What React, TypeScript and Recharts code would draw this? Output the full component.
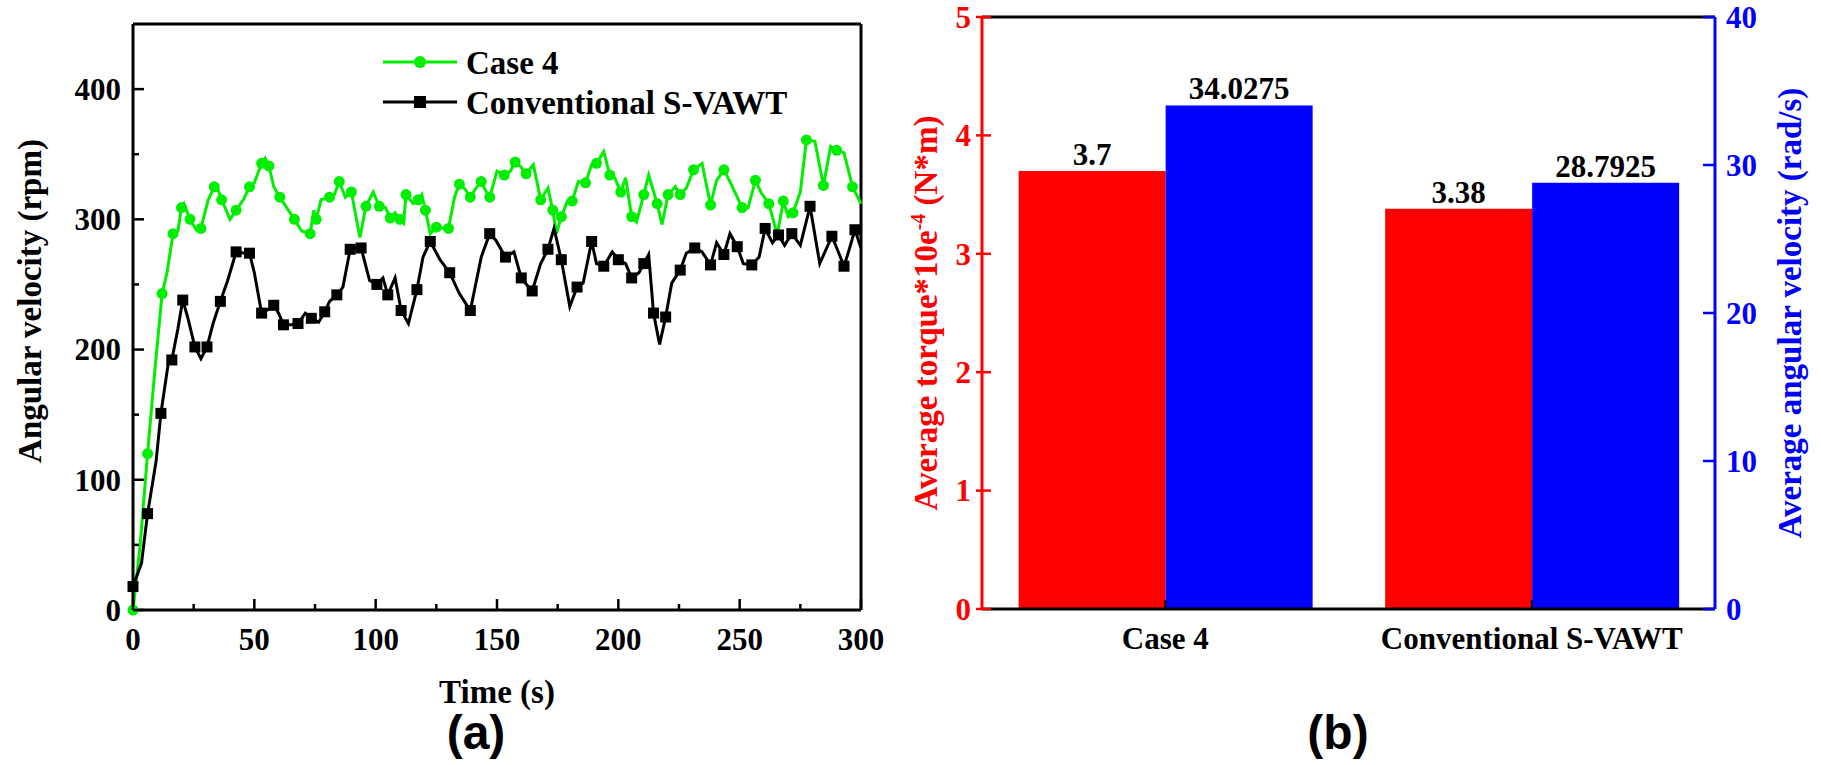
import { LineChart, Line, XAxis, YAxis, Legend, BarChart, Bar, LabelList, ReferenceLine } from 'recharts'

// ---------------------------------------------------------------------------
// Panel (a): angular velocity history
// ---------------------------------------------------------------------------

const caseTime = [
  0, 3, 6, 9, 12, 14, 16.5, 18.5, 20, 21, 23.5, 26, 28, 31, 33.5, 35, 36.5, 40, 42.5, 45.5,
  48, 50, 53, 54.5, 56, 58, 60.5, 63, 66.5, 69.5, 73, 74.5, 75.5, 77.5, 81, 83, 85, 87.5, 90, 93.5,
  96, 99, 101.5, 104, 106, 108, 110, 111.5, 112.5, 115.5, 117.5, 119, 120.5, 122.5, 125, 128.5, 130, 132.5, 134.5, 137,
  139, 141, 143.5, 145, 147, 150, 153, 155.5, 157.5, 159.5, 162, 165, 168, 171, 173, 174.5, 176.5, 179, 181, 183.5,
  186.5, 189, 191, 194, 196.5, 198.5, 201, 203, 205.5, 207.5, 210.5, 212.5, 216, 218, 220.5, 223.5, 225.5, 228, 231, 234.5,
  238, 240.5, 243.5, 246, 251, 253.5, 256.5, 259, 262, 265.5, 268, 270, 272, 275, 277.5, 281, 284.5, 287.5, 290, 293,
  296.5, 300,
]
const caseRpm = [
  0, 51, 120, 184, 243, 259, 289, 291, 309, 312, 300, 292, 293, 315, 325, 323, 315, 300, 307, 315,
  325, 328, 343, 347, 341, 325, 317, 310, 300, 291, 289, 307, 300, 315, 317, 319, 329, 317, 321, 286,
  310, 321, 310, 309, 301, 305, 300, 297, 319, 312, 315, 319, 307, 289, 294, 293, 293, 317, 327, 323,
  317, 323, 329, 323, 317, 337, 334, 337, 344, 341, 335, 342, 315, 324, 307, 289, 302, 314, 314, 329,
  328, 342, 343, 352, 334, 332, 321, 332, 302, 298, 319, 334, 312, 296, 319, 325, 319, 324, 338, 343,
  311, 330, 338, 329, 309, 309, 330, 320, 312, 288, 314, 302, 305, 321, 361, 360, 326, 356, 353, 351,
  325, 312,
]

const convTime = [
  0, 3.5, 6, 9.5, 11.5, 14.5, 16, 18.5, 20.5, 22.5, 25.5, 28, 30.5, 33, 36, 39, 42.5, 46, 48, 50,
  53, 55, 58, 60, 62, 65.5, 68, 71, 73.5, 76.5, 79, 81, 84, 86.5, 89.5, 91.5, 94, 97.5, 100.5, 103,
  105, 108, 110.5, 113.5, 117, 119.5, 122.5, 126.5, 130.5, 134.5, 139, 143.5, 147, 149.5, 153.5, 157, 160, 163, 164.5, 168,
  171, 173.5, 176.5, 180, 183, 185.5, 189, 191, 194, 197.5, 200, 203, 205.5, 208.5, 210.5, 212.5, 214.5, 217, 219.5, 222,
  225.5, 228, 231.5, 234.5, 238, 240.5, 243.5, 246, 249, 251.5, 255, 258, 260.5, 263.5, 266, 268.5, 271.5, 275, 279, 283,
  288, 290, 293, 295, 297.5, 300,
]
const convRpm = [
  18, 36, 74, 114, 151, 189, 192, 216, 238, 225, 202, 193, 202, 220, 237, 253, 275, 274, 274, 259,
  228, 230, 234, 228, 219, 219, 220, 228, 224, 221, 229, 237, 242, 248, 277, 278, 278, 253, 250, 255,
  242, 255, 230, 220, 246, 271, 283, 269, 259, 243, 230, 271, 289, 284, 271, 275, 255, 248, 245, 266,
  277, 293, 269, 233, 248, 251, 283, 266, 264, 275, 269, 266, 255, 259, 266, 273, 228, 204, 225, 251,
  261, 274, 278, 275, 265, 282, 273, 289, 279, 266, 265, 271, 293, 282, 288, 280, 289, 280, 310, 266,
  287, 278, 264, 276, 292, 278,
]

const timeTicks = [0, 25, 50, 75, 100, 125, 150, 175, 200, 225, 250, 275, 300]
const rpmTicks = [0, 50, 100, 150, 200, 250, 300, 350, 400]
const timeMax = 300
const rpmMax = 450

// ---------------------------------------------------------------------------
// Panel (b): averages
// ---------------------------------------------------------------------------

const turbines = ['Case 4', 'Conventional S-VAWT']
const avgTorque = [3.7, 3.38]
const avgOmega = [34.0275, 28.7925]
const torqueTicks = [0, 1, 2, 3, 4, 5]
const omegaTicks = [0, 10, 20, 30, 40]
const torqueMax = 5
const omegaMax = 40

const caseData = caseTime.map((t, i) => ({ t, rpm: caseRpm[i] }))
const convData = convTime.map((t, i) => ({ t, rpm: convRpm[i] }))
const barData = turbines.map((name, i) => ({ name, torque: avgTorque[i], omega: avgOmega[i] }))

const SERIF = "'Liberation Serif', 'Times New Roman', serif"
const GREEN = '#00ee00'
const RED = '#ff0000'
const BLUE = '#0000ff'

const txt = { fontFamily: SERIF, fontWeight: 'bold' as const }

// ---------------------------------------------------------------------------
// Ticks (inward tick marks drawn by hand so labels stay outside)
// ---------------------------------------------------------------------------

const RPM_MARGIN = 12
function RpmTick({ x, y, payload }: any) {
  const ax = x + RPM_MARGIN
  const major = payload.value % 100 === 0
  return (
    <g>
      <line x1={ax} x2={ax + (major ? 11 : 6)} y1={y} y2={y} stroke="#000" strokeWidth={2.5} />
      {major && (
        <text x={x} y={y} dy="0.35em" textAnchor="end" fontSize={31} fill="#000" {...txt}>
          {payload.value}
        </text>
      )}
    </g>
  )
}

const TIME_MARGIN = 18
function TimeTick({ x, y, payload }: any) {
  const ay = y - TIME_MARGIN
  const major = payload.value % 50 === 0
  return (
    <g>
      <line x1={x} x2={x} y1={ay} y2={ay - (major ? 11 : 6)} stroke="#000" strokeWidth={2.5} />
      {major && (
        <text x={x} y={y} dy="0.71em" textAnchor="middle" fontSize={31} fill="#000" {...txt}>
          {payload.value}
        </text>
      )}
    </g>
  )
}

const TORQUE_MARGIN = 9
function TorqueTick({ x, y, payload }: any) {
  const ax = x + TORQUE_MARGIN
  return (
    <g>
      <line x1={ax - 6} x2={ax + 9} y1={y} y2={y} stroke={RED} strokeWidth={2.5} />
      <text x={x - 2} y={y} dy="0.35em" textAnchor="end" fontSize={31} fill={RED} {...txt}>
        {payload.value}
      </text>
    </g>
  )
}

const OMEGA_MARGIN = 11
function OmegaTick({ x, y, payload }: any) {
  const ax = x - OMEGA_MARGIN
  return (
    <g>
      <line x1={ax - 12} x2={ax} y1={y} y2={y} stroke={BLUE} strokeWidth={2.5} />
      <text x={x} y={y} dy="0.35em" textAnchor="start" fontSize={31} fill={BLUE} {...txt}>
        {payload.value}
      </text>
    </g>
  )
}

const CASE_MARGIN = 18
function CaseTick({ x, y, payload }: any) {
  const ay = y - CASE_MARGIN
  return (
    <g>
      <line x1={x} x2={x} y1={ay} y2={ay - 9} stroke="#000" strokeWidth={2} />
      <text x={x} y={y} dy="0.71em" textAnchor="middle" fontSize={31} fill="#000" {...txt}>
        {payload.value}
      </text>
    </g>
  )
}

// ---------------------------------------------------------------------------
// Markers, legend, titles
// ---------------------------------------------------------------------------

function circleDot({ cx, cy, index }: any) {
  if (index % 2 !== 0) return <g key={`c${index}`} />
  return <circle key={`c${index}`} cx={cx} cy={cy} r={5.5} fill={GREEN} />
}

function squareDot({ cx, cy, index }: any) {
  if (index % 2 !== 0) return <g key={`s${index}`} />
  return <rect key={`s${index}`} x={cx - 5.5} y={cy - 5.5} width={11} height={11} fill="#000" />
}

function SeriesLegend({ payload }: any) {
  const items = payload ?? []
  return (
    <svg width={440} height={84}>
      {items.map((item: any, i: number) => {
        const cy = 22 + i * 40
        return (
          <g key={item.value}>
            <line x1={3} x2={77} y1={cy} y2={cy} stroke={item.color} strokeWidth={3} />
            {i === 0
              ? <circle cx={40} cy={cy} r={6} fill={item.color} />
              : <rect x={34} y={cy - 6} width={12} height={12} fill={item.color} />}
            <text x={86} y={cy} dy="0.35em" fontSize={33} fill="#000" {...txt}>{item.value}</text>
          </g>
        )
      })}
    </svg>
  )
}

function rotatedTitle(text: any, dx: number, dy: number, color: string) {
  return (props: any) => {
    const vb = props.viewBox
    const cx = vb.x + dx
    const cy = vb.y + vb.height / 2 + dy
    return (
      <text x={cx} y={cy} dy="0.35em" textAnchor="middle" fontSize={33} fill={color}
        transform={`rotate(-90, ${cx}, ${cy})`} {...txt}>
        {text}
      </text>
    )
  }
}

const torqueTitle = (
  <>
    Average torque*10e<tspan dy={-12} fontSize={20}>-4</tspan>
    <tspan dy={12}> (N*m)</tspan>
  </>
)

function timeTitle(props: any) {
  const vb = props.viewBox
  return (
    <text x={vb.x + vb.width / 2} y={vb.y + 81} dy="0.35em" textAnchor="middle" fontSize={33} fill="#000" {...txt}>
      Time (s)
    </text>
  )
}

const panelLabel: React.CSSProperties = {
  position: 'absolute',
  width: 140,
  textAlign: 'center',
  fontFamily: "'Liberation Sans', Arial, sans-serif",
  fontWeight: 'bold',
  fontSize: 48,
  lineHeight: '40px',
  color: '#000',
}

const frame = { stroke: '#000', strokeWidth: 3 }

export default function App() {
  return (
    <div style={{ position: 'absolute', left: 0, top: 0, width: 1821, height: 765, background: '#fff', overflow: 'hidden' }}>
      <div style={{ position: 'absolute', left: 0, top: 0 }}>
        <LineChart width={900} height={765} margin={{ top: 24, right: 39, bottom: 0, left: 0 }}>
          <XAxis
            dataKey="t"
            type="number"
            domain={[0, timeMax]}
            ticks={timeTicks}
            interval={0}
            tickSize={0}
            tickMargin={TIME_MARGIN}
            tickLine={false}
            tick={(p: any) => <TimeTick {...p} />}
            axisLine={frame}
            height={155}
            label={timeTitle}
          />
          <YAxis
            type="number"
            domain={[0, rpmMax]}
            ticks={rpmTicks}
            interval={0}
            width={133}
            tickSize={0}
            tickMargin={RPM_MARGIN}
            tickLine={false}
            tick={(p: any) => <RpmTick {...p} />}
            axisLine={frame}
            label={rotatedTitle('Angular velocity (rpm)', 29, -16, '#000')}
          />
          {/* closing frame: top and right borders */}
          <ReferenceLine y={rpmMax} stroke="#000" strokeWidth={3} />
          <ReferenceLine x={timeMax} stroke="#000" strokeWidth={3} />
          <Legend
            layout="vertical"
            align="center"
            verticalAlign="middle"
            wrapperStyle={{ left: 380, top: 40, width: 440 }}
            content={(p: any) => <SeriesLegend {...p} />}
          />
          <Line data={caseData} dataKey="rpm" name="Case 4" type="linear" stroke={GREEN} strokeWidth={3}
            dot={circleDot} activeDot={false} isAnimationActive={false} />
          <Line data={convData} dataKey="rpm" name="Conventional S-VAWT" type="linear" stroke="#000" strokeWidth={3}
            dot={squareDot} activeDot={false} isAnimationActive={false} />
        </LineChart>
      </div>

      <div style={{ position: 'absolute', left: 900, top: 0 }}>
        <BarChart width={921} height={765} data={barData} margin={{ top: 17, right: 0, bottom: 0, left: 0 }}
          barCategoryGap="10%" barGap={0}>
          <XAxis dataKey="name" height={156} interval={0} tickSize={0} tickMargin={CASE_MARGIN} tickLine={false}
            tick={(p: any) => <CaseTick {...p} />} axisLine={frame} />
          <YAxis
            yAxisId="torque"
            type="number"
            domain={[0, torqueMax]}
            ticks={torqueTicks}
            interval={0}
            width={82}
            tickSize={0}
            tickMargin={TORQUE_MARGIN}
            tickLine={false}
            tick={(p: any) => <TorqueTick {...p} />}
            axisLine={{ stroke: RED, strokeWidth: 3 }}
            label={rotatedTitle(torqueTitle, 25, 0, RED)}
          />
          <YAxis
            yAxisId="omega"
            orientation="right"
            type="number"
            domain={[0, omegaMax]}
            ticks={omegaTicks}
            interval={0}
            width={106}
            tickSize={0}
            tickMargin={OMEGA_MARGIN}
            tickLine={false}
            tick={(p: any) => <OmegaTick {...p} />}
            axisLine={{ stroke: BLUE, strokeWidth: 3 }}
            label={rotatedTitle('Average angular velocity (rad/s)', 74, 0, BLUE)}
          />
          {/* top border */}
          <ReferenceLine yAxisId="torque" y={torqueMax} stroke="#000" strokeWidth={3} />
          <Bar yAxisId="torque" dataKey="torque" fill={RED} isAnimationActive={false}>
            <LabelList dataKey="torque" position="top" offset={6} fill="#000" fontSize={31}
              fontFamily={SERIF} fontWeight="bold" />
          </Bar>
          <Bar yAxisId="omega" dataKey="omega" fill={BLUE} isAnimationActive={false}>
            <LabelList dataKey="omega" position="top" offset={6} fill="#000" fontSize={31}
              fontFamily={SERIF} fontWeight="bold" />
          </Bar>
        </BarChart>
      </div>

      <div style={{ ...panelLabel, left: 406, top: 713 }}>(a)</div>
      <div style={{ ...panelLabel, left: 1268, top: 713 }}>(b)</div>
    </div>
  )
}
